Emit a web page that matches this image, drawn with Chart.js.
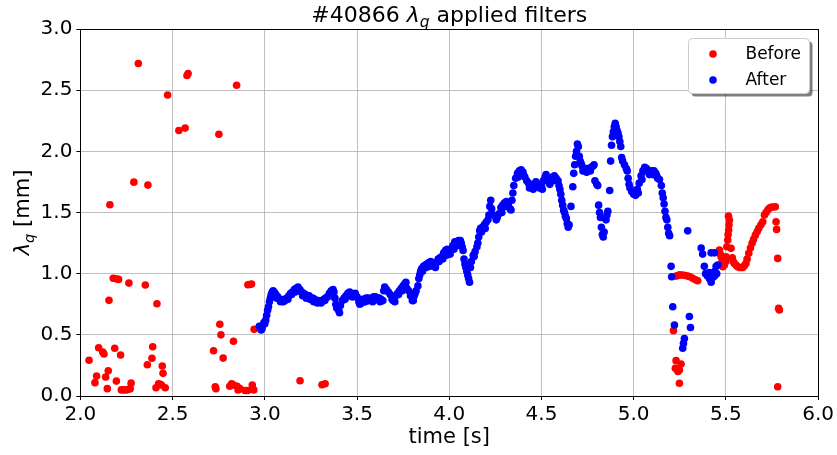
<!DOCTYPE html>
<html><head><meta charset="utf-8">
<script src="https://cdn.jsdelivr.net/npm/chart.js@4.4.0/dist/chart.umd.min.js"></script>
<style>html,body{margin:0;padding:0;background:#fff}#wrap{width:837px;height:455px}</style>
</head><body><div id="wrap"><canvas id="c" width="837" height="455"></canvas></div>
<script>
const xTicks=[2.0,2.5,3.0,3.5,4.0,4.5,5.0,5.5,6.0];
const xTickLabels=['2.0','2.5','3.0','3.5','4.0','4.5','5.0','5.5','6.0'];
const yTicks=[0.0,0.5,1.0,1.5,2.0,2.5,3.0];
const yTickLabels=['0.0','0.5','1.0','1.5','2.0','2.5','3.0'];
const seriesNames=['Before','After'];
const seriesColors=['#ff0000','#0000ff'];
const titleParts=[{t:'#40866 '},{t:'λ',it:true},{t:'q',it:true,sub:true},{t:' applied filters'}];
const yLabelParts=[{t:'λ',it:true},{t:'q',it:true,sub:true},{t:' [mm]'}];
const xLabelText='time [s]';

const beforeT=[2.047,2.079,2.088,2.099,2.121,2.128,2.137,2.146,2.151,2.155,2.160,2.178,2.186,2.193,2.195,2.207,2.218,2.222,2.235,2.250,2.262,2.270,2.275,2.263,2.290,2.314,2.352,2.363,2.366,2.388,2.392,2.410,2.415,2.424,2.432,2.440,2.444,2.448,2.460,2.473,2.534,2.568,2.578,2.584,2.722,2.731,2.735,2.751,2.756,2.762,2.774,2.810,2.820,2.830,2.830,2.847,2.850,2.855,2.865,2.893,2.908,2.908,2.918,2.928,2.932,2.940,2.942,
3.191,3.310,3.327,
5.216,5.230,5.226,5.248,5.257,5.248,5.240,5.230,5.240,5.250,5.266,5.280,5.293,5.305,5.320,5.335,5.347,
5.465,5.470,5.474,5.480,5.483,5.492,5.500,5.501,5.505,5.510,5.512,5.515,5.517,5.519,5.514,5.528,5.535,5.540,5.546,5.555,5.564,5.575,5.585,5.591,5.600,5.609,5.615,5.624,5.633,5.642,5.650,5.660,5.670,5.678,5.690,5.700,5.709,5.718,5.727,5.735,5.745,5.755,5.768,5.772,5.775,5.781,5.786,5.790,5.781];
const beforeV=[0.292,0.109,0.163,0.395,0.36,0.343,0.155,0.06,0.207,0.782,1.563,0.962,0.39,0.958,0.122,0.953,0.335,0.05,0.05,0.05,0.055,0.06,0.105,0.923,1.748,2.718,0.907,0.256,1.724,0.308,0.403,0.068,0.754,0.1,0.095,0.09,0.245,0.185,0.068,2.46,2.17,2.19,2.62,2.636,0.37,0.076,0.06,2.14,0.586,0.50,0.31,0.08,0.1,0.447,0.09,2.54,0.08,0.05,0.06,0.045,0.045,0.91,0.912,0.915,0.09,0.05,0.545,
0.125,0.092,0.1,
0.534,0.289,0.226,0.212,0.261,0.104,0.2,0.98,0.985,0.99,0.989,0.985,0.98,0.975,0.962,0.95,0.942,
1.193,1.16,1.138,1.10,1.056,1.07,1.10,1.138,1.22,1.275,1.32,1.356,1.40,1.438,1.47,1.207,1.13,1.10,1.084,1.07,1.056,1.05,1.05,1.051,1.065,1.084,1.12,1.166,1.21,1.248,1.28,1.315,1.345,1.37,1.40,1.424,1.479,1.50,1.52,1.535,1.542,1.545,1.547,1.424,1.362,1.125,0.716,0.703,0.076];

const afterT=[2.970,2.975,2.980,2.985,2.990,2.995,3.000,3.005,3.010,3.015,3.020,3.025,3.030,3.035,3.040,3.045,3.050,3.055,3.060,3.070,3.080,3.090,3.100,3.110,3.120,3.130,3.140,3.150,3.160,3.170,3.180,3.190,3.200,3.210,3.220,3.230,3.240,3.250,3.260,3.270,3.280,3.290,3.300,3.310,3.320,3.330,3.340,3.350,3.360,3.370,3.375,3.380,3.385,3.390,3.400,3.405,3.410,3.420,3.430,3.440,3.450,3.460,3.470,3.480,3.490,3.500,3.510,3.515,3.520,3.530,3.540,3.550,3.560,3.570,3.580,3.590,3.600,3.610,3.620,3.630,3.640,3.645,3.650,3.660,3.670,3.680,3.690,3.695,3.700,3.710,3.720,3.730,3.740,3.750,3.760,3.765,3.770,3.780,3.790,3.800,3.805,3.810,3.820,3.830,3.835,3.840,3.845,3.850,3.860,3.870,3.880,3.890,3.900,3.910,3.920,3.930,3.940,3.950,3.960,3.970,3.980,3.990,4.000,4.010,4.020,4.030,4.040,4.050,4.060,4.065,4.070,4.075,4.080,4.085,4.090,4.095,4.100,4.105,4.110,4.115,4.120,4.130,4.140,4.150,4.155,4.160,4.165,4.170,4.180,4.190,4.200,4.210,4.215,4.220,4.225,4.230,4.240,4.250,4.260,4.270,4.280,4.290,4.300,4.310,4.320,4.330,4.335,4.340,4.345,4.350,4.360,4.370,4.380,4.390,4.400,4.410,4.420,4.430,4.440,4.450,4.460,4.470,4.480,4.490,4.500,4.510,4.520,4.525,4.530,4.540,4.550,4.560,4.570,4.580,4.590,4.595,4.600,4.605,4.610,4.615,4.620,4.625,4.630,4.635,4.640,4.645,4.650,4.660,4.670,4.675,4.680,4.685,4.690,4.695,4.700,4.705,4.710,4.715,4.720,4.730,4.740,4.750,4.760,4.770,4.780,4.785,4.790,4.800,4.805,4.810,4.815,4.820,4.825,4.830,4.835,4.840,4.850,4.855,4.860,4.870,4.875,4.880,4.885,4.890,4.895,4.900,4.905,4.910,4.915,4.920,4.925,4.930,4.935,4.940,4.950,4.960,4.965,4.970,4.975,4.980,4.990,5.000,5.010,5.020,5.030,5.040,5.050,5.060,5.070,5.080,5.090,5.100,5.110,5.120,5.130,5.140,5.150,5.155,5.160,5.165,5.170,5.175,5.180,5.185,5.190,5.195,5.203,5.206,5.212,5.221,5.266,5.270,5.275,5.293,5.302,5.308,5.366,5.374,5.383,5.390,5.400,5.411,5.420,5.420,5.430,5.438,5.438,5.447,5.456,5.450,5.440,5.410,
3.065,3.085,3.105,3.125,3.145,3.165,3.185,3.205,3.225,3.245,3.265,3.285,3.305,3.325,3.345,3.435,3.455,3.475,3.525,3.545,3.565,3.585,3.605,3.625,3.705,3.725,3.745,3.815,3.855,3.875,3.895,3.925,3.945,3.965,3.985,4.005,4.025,4.045,4.135,4.175,4.195,4.255,4.285,4.305,4.375,4.405,4.435,4.455,4.475,4.505,4.545,4.565,4.725,4.745,4.765,5.025,5.045,5.065,5.085,5.105,5.125];
const afterV=[0.57,0.56,0.54,0.55,0.58,0.60,0.59,0.62,0.66,0.70,0.73,0.77,0.80,0.83,0.85,0.86,0.85,0.84,0.83,0.81,0.79,0.78,0.77,0.78,0.80,0.82,0.84,0.85,0.87,0.88,0.89,0.87,0.85,0.84,0.83,0.82,0.82,0.80,0.80,0.79,0.78,0.78,0.77,0.78,0.79,0.80,0.81,0.84,0.86,0.87,0.85,0.80,0.75,0.72,0.70,0.68,0.74,0.78,0.80,0.82,0.84,0.85,0.83,0.82,0.84,0.81,0.77,0.75,0.78,0.79,0.79,0.80,0.80,0.79,0.80,0.81,0.81,0.80,0.80,0.79,0.78,0.86,0.89,0.87,0.85,0.83,0.79,0.78,0.80,0.82,0.84,0.86,0.88,0.90,0.92,0.93,0.88,0.86,0.82,0.78,0.78,0.82,0.86,0.90,0.96,0.99,1.02,1.04,1.06,1.07,1.08,1.09,1.10,1.08,1.06,1.09,1.12,1.13,1.14,1.17,1.19,1.20,1.18,1.20,1.23,1.26,1.26,1.27,1.27,1.25,1.22,1.19,1.12,1.08,1.05,1.02,0.99,0.96,0.93,1.05,1.10,1.15,1.18,1.22,1.25,1.30,1.35,1.37,1.38,1.40,1.42,1.44,1.48,1.55,1.60,1.53,1.48,1.47,1.46,1.49,1.54,1.56,1.58,1.59,1.56,1.53,1.52,1.60,1.66,1.72,1.78,1.82,1.84,1.85,1.83,1.79,1.76,1.74,1.72,1.71,1.73,1.75,1.73,1.70,1.72,1.76,1.79,1.81,1.79,1.75,1.76,1.79,1.80,1.78,1.76,1.72,1.69,1.65,1.60,1.56,1.52,1.50,1.47,1.45,1.41,1.38,1.40,1.55,1.71,1.82,1.89,1.96,2.00,2.06,2.04,1.96,1.92,1.90,1.88,1.86,1.85,1.86,1.86,1.87,1.88,1.89,1.76,1.73,1.72,1.56,1.50,1.46,1.38,1.32,1.30,1.34,1.44,1.48,1.51,1.68,1.92,2.05,2.12,2.16,2.20,2.23,2.20,2.17,2.15,2.12,2.08,2.04,1.95,1.92,1.89,1.86,1.84,1.78,1.73,1.70,1.67,1.65,1.64,1.69,1.74,1.80,1.84,1.87,1.86,1.84,1.83,1.84,1.84,1.82,1.78,1.77,1.72,1.66,1.62,1.57,1.51,1.46,1.44,1.38,1.33,1.31,1.06,0.975,0.73,0.58,0.39,0.43,0.47,1.35,0.65,0.56,1.21,1.16,1.06,1.00,0.98,0.96,0.93,1.17,0.97,1.17,0.98,1.06,1.07,1.00,1.02,1.01,
0.80,0.77,0.79,0.79,0.83,0.85,0.86,0.82,0.80,0.79,0.77,0.76,0.76,0.78,0.82,0.79,0.82,0.81,0.76,0.77,0.78,0.77,0.79,0.77,0.77,0.83,0.86,0.84,1.02,1.05,1.06,1.05,1.10,1.12,1.15,1.16,1.20,1.23,1.14,1.34,1.37,1.44,1.50,1.55,1.79,1.80,1.70,1.69,1.72,1.69,1.73,1.76,1.84,1.83,1.84,1.66,1.77,1.84,1.81,1.81,1.80];

const FONT='DejaVu Sans';
function zip(t,v){return t.map((x,i)=>({x:x,y:v[i]}));}

function drawParts(ctx,parts,size,x,y,align){
  const segs=parts.map(p=>{
    const s=p.sub?size*0.7:size;
    const f=(p.it?'italic ':'')+s+'px "'+FONT+'"';
    ctx.font=f;
    return {t:p.t,f:f,w:ctx.measureText(p.t).width,dy:p.sub?size*0.22:0};
  });
  const total=segs.reduce((a,s)=>a+s.w,0);
  let cx=align==='center'?x-total/2:x;
  ctx.textAlign='left';ctx.textBaseline='alphabetic';
  segs.forEach(s=>{ctx.font=s.f;ctx.fillText(s.t,cx,y+s.dy);cx+=s.w;});
}

const decor={
  id:'decor',
  afterDraw(chart){
    const ctx=chart.ctx,a=chart.chartArea;
    ctx.save();
    ctx.strokeStyle='#000';ctx.lineWidth=1;
    ctx.strokeRect(Math.round(a.left)+0.5,Math.round(a.top)+0.5,Math.round(a.right)-Math.round(a.left),Math.round(a.bottom)-Math.round(a.top));
    ctx.fillStyle='#000';
    const cxm=(a.left+a.right)/2;
    drawParts(ctx,titleParts,22,cxm,22,'center');
    ctx.font='21px "'+FONT+'"';ctx.textAlign='center';ctx.textBaseline='alphabetic';
    ctx.fillText(xLabelText,cxm,443);
    ctx.save();
    ctx.translate(29,(a.top+a.bottom)/2);ctx.rotate(-Math.PI/2);
    drawParts(ctx,yLabelParts,21,0,0,'center');
    ctx.restore();
    const lx=688.5,ly=38.5,lw=121,lh=55,r=4;
    function rr(x,y,w,h){ctx.beginPath();ctx.moveTo(x+r,y);ctx.lineTo(x+w-r,y);ctx.quadraticCurveTo(x+w,y,x+w,y+r);ctx.lineTo(x+w,y+h-r);ctx.quadraticCurveTo(x+w,y+h,x+w-r,y+h);ctx.lineTo(x+r,y+h);ctx.quadraticCurveTo(x,y+h,x,y+h-r);ctx.lineTo(x,y+r);ctx.quadraticCurveTo(x,y,x+r,y);ctx.closePath();}
    rr(lx+3,ly+3,lw,lh);ctx.fillStyle='rgba(0,0,0,0.5)';ctx.fill();
    rr(lx,ly,lw,lh);ctx.fillStyle='#ffffff';ctx.fill();ctx.strokeStyle='#cccccc';ctx.lineWidth=1;ctx.stroke();
    const ds=chart.data.datasets;
    const rows=[54,80];
    seriesNames.forEach((n,i)=>{
      const d=ds.find(q=>q.label===n);
      ctx.beginPath();ctx.arc(713,rows[i],3.8,0,Math.PI*2);ctx.fillStyle=d.backgroundColor;ctx.fill();
      ctx.fillStyle='#000';ctx.font='17px "'+FONT+'"';ctx.textAlign='left';ctx.textBaseline='middle';
      ctx.fillText(n,745.5,rows[i]+1);
    });
    ctx.restore();
  }
};

new Chart(document.getElementById('c'),{
  type:'scatter',
  data:{datasets:[
    {label:seriesNames[0],data:zip(beforeT,beforeV),backgroundColor:seriesColors[0],borderWidth:0,pointRadius:3.8,pointHoverRadius:3.8,order:1},
    {label:seriesNames[1],data:zip(afterT,afterV),backgroundColor:seriesColors[1],borderWidth:0,pointRadius:3.8,pointHoverRadius:3.8,order:0}
  ]},
  options:{
    responsive:false,animation:false,devicePixelRatio:1,
    layout:{padding:{top:29,right:18.2,left:0,bottom:0}},
    plugins:{legend:{display:false},tooltip:{enabled:false},title:{display:false}},
    scales:{
      x:{type:'linear',min:2,max:6,
        afterBuildTicks:s=>{s.ticks=xTicks.map(v=>({value:v}));},
        afterFit:s=>{s.height=59;},
        ticks:{callback:(v,i)=>xTickLabels[i],font:{family:FONT,size:20},color:'#000',padding:3,maxRotation:0,autoSkip:false},
        grid:{color:'#b0b0b0',lineWidth:0.8,tickLength:4,tickColor:'#000',tickWidth:1},
        border:{color:'#000',width:1}},
      y:{type:'linear',min:0,max:3,
        afterBuildTicks:s=>{s.ticks=yTicks.map(v=>({value:v}));},
        afterFit:s=>{s.width=80.4;},
        ticks:{callback:(v,i)=>yTickLabels[i],font:{family:FONT,size:20},color:'#000',padding:4,autoSkip:false},
        grid:{color:'#b0b0b0',lineWidth:0.8,tickLength:4,tickColor:'#000',tickWidth:1},
        border:{color:'#000',width:1}}
    }
  },
  plugins:[decor]
});
</script></body></html>
